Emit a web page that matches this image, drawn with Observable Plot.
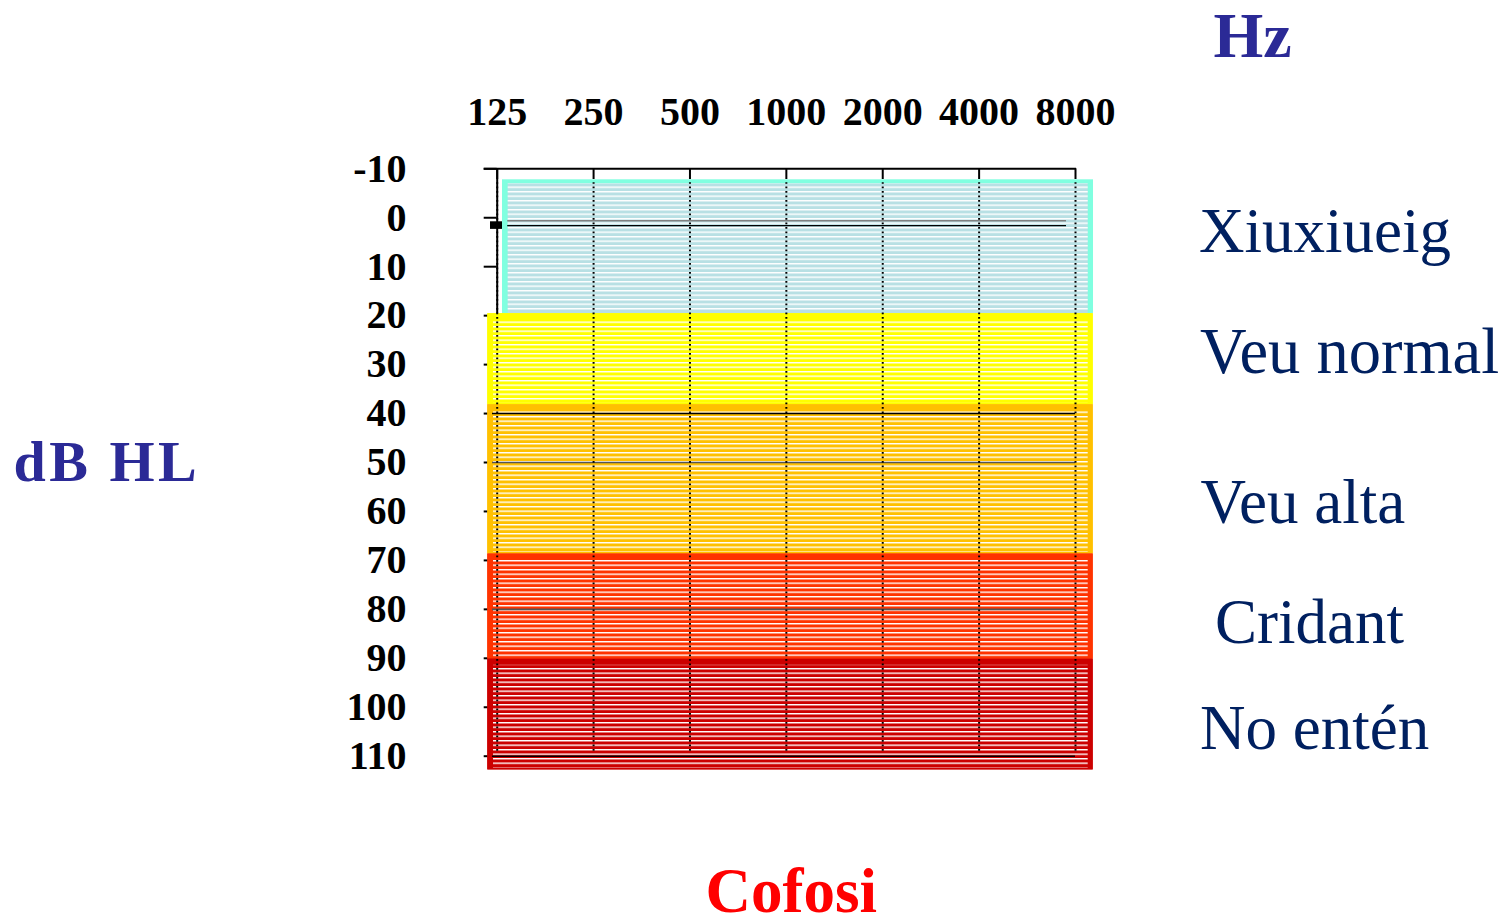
<!DOCTYPE html>
<html>
<head>
<meta charset="utf-8">
<script src="https://cdn.jsdelivr.net/npm/d3@7"></script>
<script src="https://cdn.jsdelivr.net/npm/@observablehq/plot@0.6"></script>
<style>
  html, body { margin: 0; padding: 0; background: #fff; }
  #chart { width: 1512px; height: 916px; overflow: hidden; }
  .dbhl text { letter-spacing: 3.5px; }
</style>
</head>
<body>
<div id="chart"></div>
<script>
// ---- data ----
const frequencies = [125, 250, 500, 1000, 2000, 4000, 8000];
const levelTicks = [-10, 0, 10, 20, 30, 40, 50, 60, 70, 80, 90, 100, 110];
const bandNames = ["Xiuxiueig", "Veu normal", "Veu alta", "Cridant", "No entén"];
const bandFrom = [-7.75, 19.6, 38.2, 68.7, 90.2];
const bandTo = [19.6, 38.2, 68.7, 90.2, 112.8];
const zeroGrey = [0.6];
const zeroBlack = [1.6];
const darkLevels = [40, 110];
const greyLevels = [50, 80];
const markerLevel = [1.5];

// ---- styles ----
const bandEdge = ["#80FFE0", "#FFFF00", "#FFC000", "#FF3300", "#CC0000"];
const bandFill = ["#B8E0E4", "#FFFF00", "#FFC000", "#FF3300", "#CC0000"];
const labelNudge = [-14.5, -7.2, 23.9, 16.6, 14.7];
const labelShift = [123.5, 124.5, 125, 139.5, 124.5];
const labelSize = [63, 64.5, 63, 63, 63];
const serif = "'Liberation Serif','Times New Roman',Times,serif";

const W = 1512, H = 916;
const mL = 496.7, mR = 437, mT = 168.3, mB = 160.3;
const frameW = W - mL - mR, frameH = H - mT - mB;
const P = 4.5, PHASE = 2;

const bands = bandNames.map((name, i) => ({
  name, from: bandFrom[i], to: bandTo[i], mid: (bandFrom[i] + bandTo[i]) / 2
}));

const defsMark = () => {
  const ns = "http://www.w3.org/2000/svg";
  const defs = document.createElementNS(ns, "defs");
  const pat = document.createElementNS(ns, "pattern");
  pat.setAttribute("id", "stripes");
  pat.setAttribute("patternUnits", "userSpaceOnUse");
  pat.setAttribute("x", "0");
  pat.setAttribute("y", String(PHASE));
  pat.setAttribute("width", "20");
  pat.setAttribute("height", String(P));
  const r = document.createElementNS(ns, "rect");
  r.setAttribute("x", "0"); r.setAttribute("y", "0");
  r.setAttribute("width", "20"); r.setAttribute("height", "1.4");
  r.setAttribute("fill", "#ffffff");
  pat.appendChild(r);
  defs.appendChild(pat);
  return defs;
};

const bandMarks = bands.flatMap((b, i) => {
  const quiet = i === 0;
  return [
    Plot.rect([b], {y1: "from", y2: "to", fill: bandEdge[i],
      insetLeft: quiet ? 5.3 : -9.4, insetRight: quiet ? -18 : -17.7}),
    Plot.rect([b], {y1: "from", y2: "to", fill: bandFill[i],
      insetLeft: quiet ? 11 : -9.4, insetRight: quiet ? -12.7 : -17.7, insetTop: quiet ? 4 : 0}),
    Plot.rect([b], {y1: "from", y2: "to", fill: "url(#stripes)",
      insetLeft: quiet ? 11 : -3.7, insetRight: -12.7, insetTop: quiet ? 4 : 6, insetBottom: 2}),
  ];
});

const labelMarks = bands.map((b, i) =>
  Plot.text([b], {y: "mid", text: "name", frameAnchor: "right", textAnchor: "start", lineAnchor: "middle",
    dx: labelShift[i], dy: labelNudge[i], fontSize: labelSize[i], fontFamily: serif, fill: "#002060"})
);

const dotTop = mT + 14;
const dashOff = (((dotTop - PHASE) % P) + P) % P;

const chart = Plot.plot({
  width: W, height: H,
  marginLeft: mL, marginRight: mR, marginTop: mT, marginBottom: mB,
  style: {background: "#fff", color: "#000", fontFamily: serif, overflow: "visible"},
  x: {type: "log", domain: [125, 8000], axis: null},
  y: {domain: [-10, 110], reverse: true, axis: null},
  marks: [
    defsMark,
    Plot.axisY(levelTicks, {anchor: "left", tickSize: 13, tickPadding: 77.7, strokeWidth: 2,
      fontSize: 40, fontWeight: "bold", fontFamily: serif, fill: "#000", label: null,
      tickFormat: d => String(d)}),
    Plot.ruleX([125], {stroke: "#000", strokeWidth: 2}),
    Plot.ruleY([-10], {stroke: "#000", strokeWidth: 2, insetLeft: -13, insetRight: -1}),
    Plot.ruleX(frequencies, {x: d => d, stroke: "#000", strokeWidth: 2, insetBottom: frameH - 10.7}),
    ...bandMarks,
    Plot.ruleY(zeroGrey, {stroke: "#808080", strokeWidth: 1.4, insetLeft: 10.5, insetRight: 9}),
    Plot.ruleY(zeroBlack, {stroke: "#000", strokeWidth: 1.4, insetLeft: 10.5, insetRight: 9}),
    Plot.ruleY(darkLevels, {stroke: "#000", strokeWidth: 1.4, insetLeft: -4.7, insetRight: 0}),
    Plot.ruleY(greyLevels, {stroke: "#555", strokeWidth: 1.6, insetLeft: -4.7, insetRight: 0}),
    Plot.ruleX(frequencies, {x: d => d, stroke: "#000", strokeWidth: 2, strokeDasharray: `1.7,${P - 1.7}`,
      strokeDashoffset: dashOff, insetTop: 14, insetBottom: 5}),
    Plot.ruleY(markerLevel, {stroke: "#000", strokeWidth: 7.6, insetLeft: -6.7, insetRight: frameW - 5.3}),
    Plot.text(frequencies, {x: d => d, text: d => String(d), frameAnchor: "top", textAnchor: "middle",
      lineAnchor: "middle", dy: -57, fontSize: 40, fontWeight: "bold", fontFamily: serif, fill: "#000"}),
    ...labelMarks,
    Plot.text(["Hz"], {text: d => d, frameAnchor: "top-right", textAnchor: "middle", lineAnchor: "middle",
      dx: 177, dy: -132, fontSize: 64, fontWeight: "bold", fontFamily: serif, fill: "#2B2A96"}),
    Plot.text(["dB HL"], {text: d => d, frameAnchor: "left", textAnchor: "start", lineAnchor: "middle",
      dx: 13 - mL, dy: 0, fontSize: 58, fontWeight: "bold", fontFamily: serif, fill: "#2B2A96",
      className: "dbhl"}),
    Plot.text(["Cofosi"], {text: d => d, frameAnchor: "bottom", textAnchor: "middle", lineAnchor: "middle",
      dx: 5, dy: 135.5, fontSize: 63, fontWeight: "bold", fontFamily: serif, fill: "#FF0000"})
  ]
});

document.getElementById("chart").appendChild(chart);
</script>
</body>
</html>
